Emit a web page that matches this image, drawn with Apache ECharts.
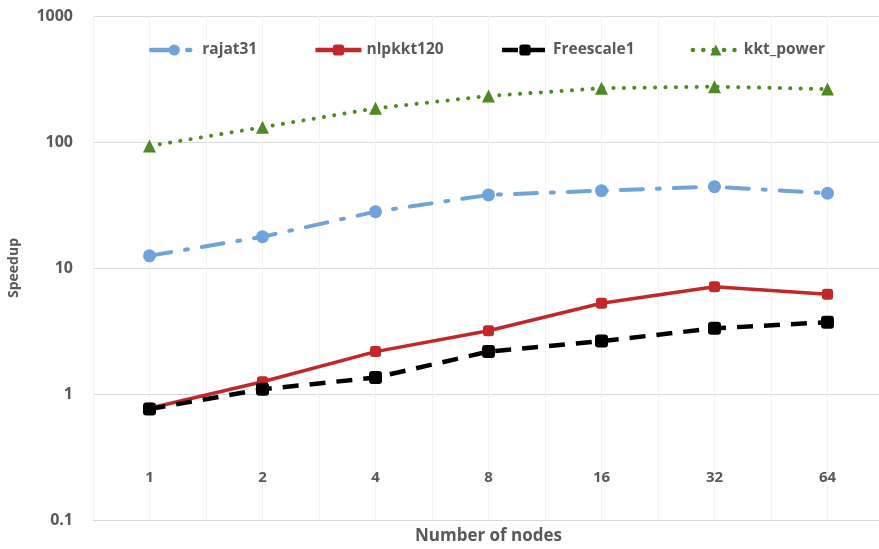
<!DOCTYPE html>
<html>
<head>
<meta charset="utf-8">
<script src="https://cdn.jsdelivr.net/npm/echarts@6/dist/echarts.min.js"></script>
<style>html,body{margin:0;padding:0;background:#fff}#c{width:879px;height:549px}</style>
</head>
<body>
<div id="c"></div>
<script>
var categories = ['1', '2', '4', '8', '16', '32', '64'];
var rajat31 = [12.5, 17.7, 28.0, 38.0, 41.1, 44.2, 39.2];
var nlpkkt120 = [0.77, 1.25, 2.17, 3.18, 5.25, 7.1, 6.18];
var freescale1 = [0.76, 1.09, 1.35, 2.17, 2.63, 3.32, 3.71];
var kktPower = [93, 131, 185, 232, 267, 275, 263];
var yTicks = [0.1, 1, 10, 100, 1000];

var chart = echarts.init(document.getElementById('c'));
var txt = '#595959';
var font = 'Open Sans, Liberation Sans, sans-serif';
chart.setOption({
  animation: false,
  backgroundColor: '#fff',
  grid: { left: 93, width: 791, top: 16, bottom: 29, containLabel: false, outerBoundsMode: 'none' },
  legend: {
    left: 144, top: 37, itemGap: 56, itemWidth: 46, itemHeight: 14,
    lineStyle: { width: 4.5 },
    textStyle: { color: txt, fontSize: 15.5, fontWeight: 'bold', fontFamily: font, padding: [0, 0, 0, 0] },
    data: ['rajat31', 'nlpkkt120', 'Freescale1', 'kkt_power']
  },
  xAxis: [{
    type: 'category', data: categories, boundaryGap: true,
    offset: -42,
    axisLine: { show: false }, axisTick: { show: false },
    axisLabel: { color: txt, fontSize: 15, fontWeight: 'bold', fontFamily: font, margin: 0, verticalAlign: 'middle' },
    splitLine: { show: false },
    name: 'Number of nodes', nameLocation: 'middle', nameGap: 50,
    nameTextStyle: { color: txt, fontSize: 17, fontWeight: 'bold', fontFamily: font }
  }, {
    type: 'value', min: 0, max: 14, interval: 1, show: true,
    axisLine: { show: false }, axisTick: { show: false }, axisLabel: { show: false },
    splitLine: { show: true, lineStyle: { color: '#f2f2f2', width: 1 } }
  }],
  yAxis: {
    type: 'log', logBase: 10, min: yTicks[0], max: yTicks[yTicks.length - 1],
    axisLine: { show: false }, axisTick: { show: false },
    axisLabel: { color: txt, fontSize: 16, fontWeight: 'bold', fontFamily: font, margin: 20,
      formatter: function (v) { return String(v); } },
    splitLine: { show: true, lineStyle: { color: '#d9d9d9', width: 1.2 } },
    name: 'Speedup', nameLocation: 'middle', nameGap: 72, nameRotate: 90,
    nameTextStyle: { color: txt, fontSize: 14, fontWeight: 'bold', fontFamily: font }
  },
  series: [{
    name: 'rajat31', type: 'line', data: rajat31, xAxisIndex: 0,
    symbol: 'circle', symbolSize: 13,
    itemStyle: { color: '#6fa3d9' },
    lineStyle: { color: '#6fa3d9', width: 4, type: [22, 14, 3, 14], cap: 'round' }
  }, {
    name: 'nlpkkt120', type: 'line', data: nlpkkt120, xAxisIndex: 0,
    symbol: 'roundRect', symbolSize: 11,
    itemStyle: { color: '#c0282a' },
    lineStyle: { color: '#c0282a', width: 3.5 }
  }, {
    name: 'Freescale1', type: 'line', data: freescale1, xAxisIndex: 0,
    symbol: 'roundRect', symbolSize: 13,
    itemStyle: { color: '#000' },
    lineStyle: { color: '#000', width: 4.5, type: [16, 11] }
  }, {
    name: 'kkt_power', type: 'line', data: kktPower, xAxisIndex: 0,
    symbol: 'triangle', symbolSize: 13,
    itemStyle: { color: '#4e8a22' },
    lineStyle: { color: '#4e8a22', width: 4, type: [0.1, 10.3], cap: 'round' }
  }]
});
</script>
</body>
</html>
